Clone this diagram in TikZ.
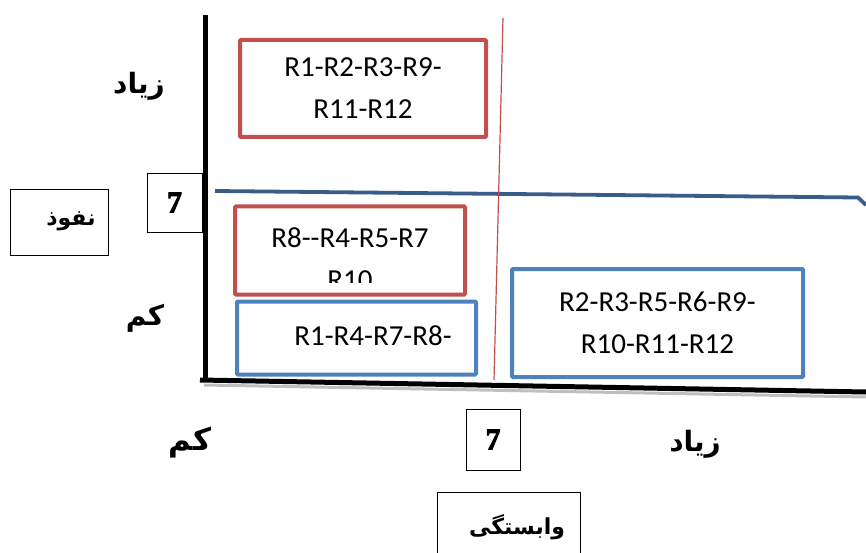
\documentclass[tikz,border=0pt]{standalone}
\usepackage{fontspec}
\setmainfont{Carlito}
\newfontfamily\arabicfont[Script=Arabic]{DejaVu Sans}
\newfontfamily\timesbf{Liberation Serif}[FakeBold=3]
\TeXXeTstate=1
\definecolor{boxred}{HTML}{C0504D}
\definecolor{boxblue}{HTML}{4F81BD}
\definecolor{lineblue}{HTML}{385D8A}
\newcommand{\seven}{{\timesbf\bfseries\fontsize{30}{32}\selectfont 7}}
\tikzset{
  rbox/.style={draw=boxred, line width=4pt, rounded corners=1pt, inner sep=0pt},
  bbox/.style={draw=boxblue, line width=4pt, rounded corners=1pt, inner sep=0pt},
  rtext/.style={font=\fontsize{29}{42}\selectfont, align=center, inner sep=0pt},
  numbox/.style={draw=black, line width=0.9pt, inner sep=0pt},
  lblbox/.style={draw=black, line width=0.9pt, inner sep=0pt},
  faword/.style={inner sep=0pt, font=\arabicfont\bfseries\fontsize{28}{30}\selectfont},
  fasmall/.style={inner sep=0pt, font=\arabicfont\bfseries\fontsize{22}{24}\selectfont},
  axis/.style={line width=5pt, black},
}
\begin{document}
\begin{tikzpicture}[x=1pt,y=-1pt]
\useasboundingbox (0,0) rectangle (866,553);
% axes
\coordinate (vtop) at (205,15);
\coordinate (vbot) at (205,382);
\coordinate (hleft) at (200,380);
\coordinate (hright) at (866,392);
\draw[black!25, line width=3pt] (204,385) -- (866,397);
\draw[axis] (vtop) -- (vbot);
\draw[axis] (hleft) -- (hright);
% threshold lines
\coordinate (blA) at (215,191);
\coordinate (blB) at (858,197.5);
\coordinate (blC) at (866,205);
\draw[lineblue, line width=3.8pt] (blA) -- (blB) -- (blC);
\coordinate (rlA) at (503,18);
\coordinate (rlB) at (494,380);
\draw[boxred, line width=1.2pt] (rlA) -- (rlB);
% boxes
\node[rbox, minimum width=246pt, minimum height=97pt, rtext] (r1) at (363,88.5) {R1-R2-R3-R9-\\R11-R12};
\node[rbox, minimum width=230pt, minimum height=88pt] (r2) at (350,250.5) {};
\begin{scope}
\clip (237,209) rectangle (463,282);
\node[rtext] (r2t) at (350,259) {R8-{}-R4-R5-R7\\R10};
\end{scope}
\node[bbox, minimum width=239pt, minimum height=73pt] (b1) at (356.5,338) {};
\node[rtext] (b1t) at (373,336) {R1-R4-R7-R8-};
\node[bbox, minimum width=291pt, minimum height=108pt, rtext] (b2) at (657.5,323) {R2-R3-R5-R6-R9-\\R10-R11-R12};
% small boxes
\node[numbox, minimum width=55pt, minimum height=59pt] (n7l) at (174.5,202.5) {\seven};
\node[lblbox, minimum width=98pt, minimum height=66pt] (nfz) at (59,222) {};
\node[fasmall] (nfzt) at (71,221) {\beginR نفوذ\endR};
\node[numbox, minimum width=54pt, minimum height=61pt] (n7b) at (493,439.5) {\seven};
\node[lblbox, minimum width=143pt, minimum height=76pt] (vbs) at (508.5,530) {};
\node[fasmall] (vbst) at (517,527) {\beginR وابستگی\endR};
% axis labels
\node[faword] (zl) at (139,86) {\beginR زیاد\endR};
\node[faword] (kl) at (145,318) {\beginR کم\endR};
\node[faword, font=\arabicfont\bfseries\fontsize{31}{33}\selectfont] (kb) at (190,443) {\beginR کم\endR};
\node[faword] (zb) at (695,444) {\beginR زیاد\endR};
\end{tikzpicture}
\end{document}
